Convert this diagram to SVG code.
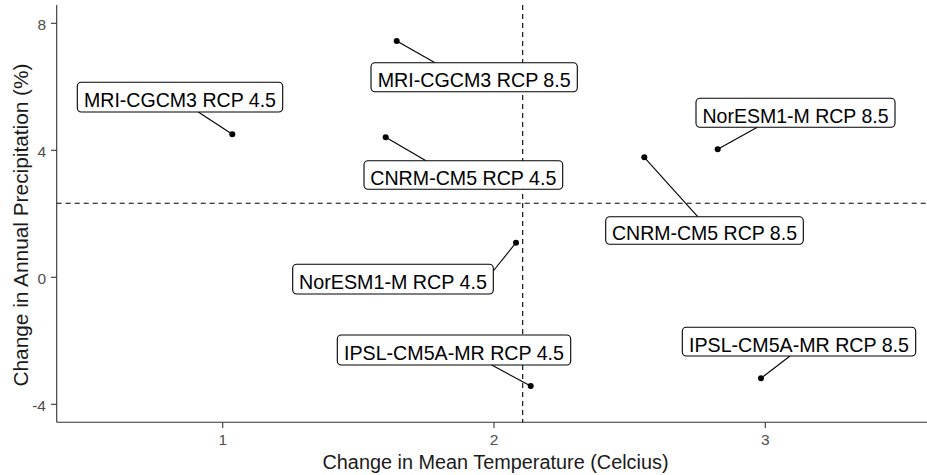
<svg xmlns="http://www.w3.org/2000/svg" width="927" height="475" viewBox="0 0 927 475">
<style>
.axis{stroke:#333333;stroke-width:1.1;fill:none}
.tick{stroke:#333333;stroke-width:1.1}
.ticklab{font-family:"Liberation Sans",Arial,sans-serif;font-size:15.5px;fill:#4D4D4D}
.title{font-family:"Liberation Sans",Arial,sans-serif;font-size:20px;fill:#1a1a1a}
.ref{stroke:#000;stroke-width:1.1;stroke-dasharray:5,4;fill:none}
.box{fill:#fff;stroke:#000;stroke-width:1.1}
.lab{font-family:"Liberation Sans",Arial,sans-serif;font-size:21px;fill:#000;text-anchor:middle}
.seg{stroke:#000;stroke-width:1.1}
.pt{fill:#000}
</style>
<rect width="927" height="475" fill="#fff"/>
<g id="axes">
<line class="axis" x1="56.7" y1="5" x2="56.7" y2="422.3"/>
<line class="axis" x1="56.7" y1="422.3" x2="927" y2="422.3"/>
<line class="tick" x1="51" y1="23.3" x2="56.7" y2="23.3"/>
<line class="tick" x1="51" y1="150.3" x2="56.7" y2="150.3"/>
<line class="tick" x1="51" y1="277.3" x2="56.7" y2="277.3"/>
<line class="tick" x1="51" y1="404.3" x2="56.7" y2="404.3"/>
<line class="tick" x1="222.7" y1="422.3" x2="222.7" y2="428"/>
<line class="tick" x1="494" y1="422.3" x2="494" y2="428"/>
<line class="tick" x1="765.3" y1="422.3" x2="765.3" y2="428"/>
<text class="ticklab" x="46" y="29.6" text-anchor="end">8</text>
<text class="ticklab" x="46" y="156.6" text-anchor="end">4</text>
<text class="ticklab" x="46" y="283.6" text-anchor="end">0</text>
<text class="ticklab" x="46" y="410.6" text-anchor="end">-4</text>
<text class="ticklab" x="222.7" y="445" text-anchor="middle">1</text>
<text class="ticklab" x="494" y="445" text-anchor="middle">2</text>
<text class="ticklab" x="765.3" y="445" text-anchor="middle">3</text>
<text class="title" x="495.5" y="468.5" text-anchor="middle" textLength="346" lengthAdjust="spacingAndGlyphs">Change in Mean Temperature (Celcius)</text>
<text class="title" transform="translate(28,225) rotate(-90)" text-anchor="middle" textLength="323" lengthAdjust="spacingAndGlyphs">Change in Annual Precipitation (%)</text>
</g>
<g id="reference-lines">
<line class="ref" x1="56.7" y1="203.3" x2="927" y2="203.3"/>
<line class="ref" x1="522.7" y1="5" x2="522.7" y2="422.3"/>
</g>
<g id="connectors">
<line class="seg" x1="198.3" y1="112" x2="232.3" y2="134.3"/>
<line class="seg" x1="435" y1="62.7" x2="396.7" y2="41"/>
<line class="seg" x1="426" y1="160.7" x2="385.7" y2="137.3"/>
<line class="seg" x1="757.3" y1="127.3" x2="717.7" y2="149.3"/>
<line class="seg" x1="697.7" y1="216.7" x2="644.3" y2="157.3"/>
<line class="seg" x1="493.3" y1="271" x2="516" y2="242.7"/>
<line class="seg" x1="491.7" y1="365" x2="530.7" y2="386"/>
<line class="seg" x1="790" y1="356" x2="761" y2="378.3"/>
</g>
<g id="points">
<circle class="pt" cx="232.3" cy="134.3" r="3"/>
<circle class="pt" cx="396.7" cy="41" r="3"/>
<circle class="pt" cx="385.7" cy="137.3" r="3"/>
<circle class="pt" cx="717.7" cy="149.3" r="3"/>
<circle class="pt" cx="644.3" cy="157.3" r="3"/>
<circle class="pt" cx="516" cy="242.7" r="3"/>
<circle class="pt" cx="530.7" cy="386" r="3"/>
<circle class="pt" cx="761" cy="378.3" r="3"/>
</g>
<g id="label-mri45">
<rect class="box" x="77.3" y="82.3" width="205.4" height="29.7" rx="4"/>
<text class="lab" x="180" y="107.3" textLength="192" lengthAdjust="spacingAndGlyphs">MRI-CGCM3 RCP 4.5</text>
</g>
<g id="label-mri85">
<rect class="box" x="371" y="62.7" width="206.3" height="29" rx="4"/>
<text class="lab" x="474.2" y="87.2" textLength="193" lengthAdjust="spacingAndGlyphs">MRI-CGCM3 RCP 8.5</text>
</g>
<g id="label-cnrm45">
<rect class="box" x="364" y="160.7" width="198.7" height="28.6" rx="4"/>
<text class="lab" x="463.3" y="184.8" textLength="186" lengthAdjust="spacingAndGlyphs">CNRM-CM5 RCP 4.5</text>
</g>
<g id="label-noresm85">
<rect class="box" x="696" y="98.3" width="199" height="29" rx="4"/>
<text class="lab" x="795.5" y="122.6" textLength="186" lengthAdjust="spacingAndGlyphs">NorESM1-M RCP 8.5</text>
</g>
<g id="label-cnrm85">
<rect class="box" x="605.7" y="216.7" width="197.6" height="27.6" rx="4"/>
<text class="lab" x="704.5" y="240.2" textLength="185" lengthAdjust="spacingAndGlyphs">CNRM-CM5 RCP 8.5</text>
</g>
<g id="label-noresm45">
<rect class="box" x="292.7" y="264.3" width="200.6" height="29.7" rx="4"/>
<text class="lab" x="393" y="289.2" textLength="188" lengthAdjust="spacingAndGlyphs">NorESM1-M RCP 4.5</text>
</g>
<g id="label-ipsl45">
<rect class="box" x="337.3" y="335" width="233.4" height="30" rx="4"/>
<text class="lab" x="454" y="360" textLength="220" lengthAdjust="spacingAndGlyphs">IPSL-CM5A-MR RCP 4.5</text>
</g>
<g id="label-ipsl85">
<rect class="box" x="682.3" y="327.3" width="233.4" height="28.7" rx="4"/>
<text class="lab" x="799" y="351.7" textLength="220" lengthAdjust="spacingAndGlyphs">IPSL-CM5A-MR RCP 8.5</text>
</g>
</svg>
